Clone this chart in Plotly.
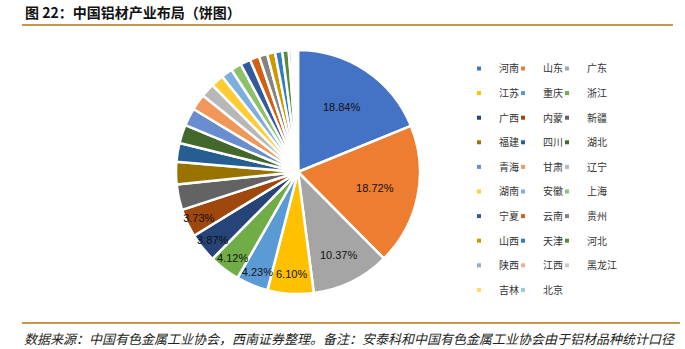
import plotly.graph_objects as go

regions = ["河南", "山东", "广东", "江苏", "重庆", "浙江", "广西", "内蒙", "新疆", "福建",
           "四川", "湖北", "青海", "甘肃", "辽宁", "湖南", "安徽", "上海", "宁夏", "云南",
           "贵州", "山西", "天津", "河北", "陕西", "江西", "黑龙江", "吉林", "北京"]
shares = [18.84, 18.72, 10.37, 6.10, 4.23, 4.12, 3.87, 3.73, 3.40, 2.95,
          2.50, 2.45, 2.35, 2.15, 1.85, 1.70, 1.50, 1.40, 1.35, 1.25,
          1.10, 1.05, 0.95, 0.85, 0.40, 0.35, 0.20, 0.15, 0.12]
labelled = 8
colors = ["#4472C4", "#ED7D31", "#A5A5A5", "#FFC000", "#5B9BD5", "#70AD47",
          "#264478", "#9E480E", "#636363", "#997300", "#255E91", "#43682B",
          "#698ED0", "#F1975A", "#B7B7B7", "#FFCD33", "#7CAFDD", "#8CC168",
          "#335AA1", "#D26012", "#848484", "#CC9A00", "#327DC2", "#5A8A39",
          "#8FAADC", "#F4B183", "#C9C9C9", "#FFD966", "#9DC3E6"]

title_text = "图 22：中国铝材产业布局（饼图）"
footer_text = "数据来源：中国有色金属工业协会，西南证券整理。备注：安泰科和中国有色金属工业协会由于铝材品种统计口径"

W, H = 685, 349
FONT = "Noto Sans CJK SC"
LEG_TEXT = "#333333"

texts = [f"{v:.2f}%" if i < labelled else "" for i, v in enumerate(shares)]

fig = go.Figure()
fig.add_trace(go.Pie(
    labels=regions, values=shares, sort=False, direction="clockwise", rotation=0,
    marker=dict(colors=colors, line=dict(color="white", width=2.5)),
    text=texts, textinfo="text", textposition="inside",
    insidetextorientation="horizontal",
    textfont=dict(family="Arial, Liberation Sans", size=11, color="#111111"),
    showlegend=False, hoverinfo="label+value",
    domain=dict(x=[176 / W, 420 / W], y=[1 - 294 / H, 1 - 50 / H]),
))

legend_names = ["legend", "legend2", "legend3"]
for i, (name, col) in enumerate(zip(regions, colors)):
    fig.add_trace(go.Scatter(
        x=[None], y=[None], mode="markers", name=name,
        marker=dict(symbol="square", size=4, color=col),
        legend=legend_names[i % 3], legendgroup=name, showlegend=True,
    ))

leg_common = dict(orientation="v", xanchor="left", yanchor="top",
                  bgcolor="rgba(0,0,0,0)", tracegroupgap=5.6,
                  font=dict(family=FONT, size=10, color=LEG_TEXT),
                  itemwidth=30)
text_x = [499, 543, 587]
lay_legends = {}
for k, ln in enumerate(legend_names):
    lay_legends[ln] = dict(leg_common, x=(text_x[k] - 40) / W, y=1 - 54 / H)

fig.update_layout(
    width=W, height=H, margin=dict(l=0, r=0, t=0, b=0),
    paper_bgcolor="white", plot_bgcolor="white",
    xaxis=dict(visible=False), yaxis=dict(visible=False),
    **lay_legends,
    shapes=[
        dict(type="line", xref="paper", yref="paper", x0=22 / W, x1=673 / W,
             y0=1 - 25 / H, y1=1 - 25 / H, line=dict(color="#C9964B", width=2)),
        dict(type="line", xref="paper", yref="paper", x0=22 / W, x1=680 / W,
             y0=1 - 323 / H, y1=1 - 323 / H, line=dict(color="#C9964B", width=2)),
    ],
    annotations=[
        dict(text="<b>" + title_text + "</b>", xref="paper", yref="paper",
             x=23 / W, y=1 - 12 / H, xanchor="left", yanchor="middle", showarrow=False,
             font=dict(family=FONT, size=14, color="#111111")),
        dict(text=footer_text, xref="paper", yref="paper",
             x=22 / W, y=1 - 338 / H, xanchor="left", yanchor="middle", showarrow=False,
             font=dict(family=FONT, size=13, color="#222222", style="italic")),
    ],
    uniformtext=dict(minsize=11, mode="show"),
)

fig.write_html("out.html")
